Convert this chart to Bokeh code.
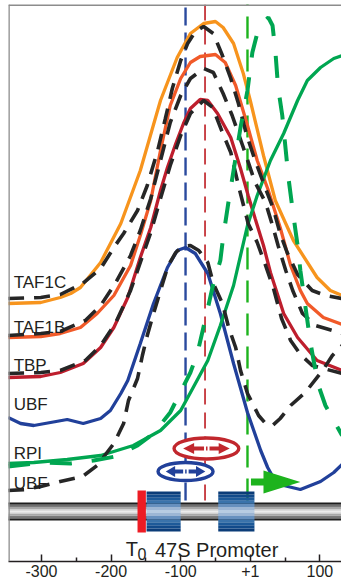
from bokeh.plotting import figure
from bokeh.models import Range1d, FixedTicker, Span
from bokeh.core.properties import value
from bokeh.embed import file_html
from bokeh.resources import INLINE

# ---- data: x = position (bp, relative to +1), y = signal (arbitrary units) ----
taf1c_x = [-348, -301, -273, -258, -244, -215, -186, -158, -129, -105, -86, -67, -50, -39, -24, -10, 0, 19, 36, 62, 96, 115, 132]
taf1c_y = [258, 259, 264, 268, 274, 299, 338, 391, 461, 504, 528, 538, 540, 534, 518, 488, 461, 406, 361, 321, 284, 271, 266]

taf1c_fit_x = [-348, -301, -273, -241, -215, -196, -182, -162, -148, -133, -122, -112, -100, -90, -79, -67, -53, -40, -28, -17, -5, 7, 22, 33, 43, 53, 68, 89, 108, 132]
taf1c_fit_y = [263, 264, 267, 278, 293, 314, 328, 351, 376, 411, 443, 473, 501, 518, 530, 535, 528, 506, 483, 458, 426, 401, 373, 353, 328, 309, 287, 271, 266, 263]

taf1b_x = [-348, -301, -273, -244, -220, -196, -172, -158, -143, -129, -115, -100, -86, -72, -50, -36, -21, -4, 10, 25, 43, 58, 72, 82, 105, 132]
taf1b_y = [224, 225, 228, 234, 248, 266, 296, 326, 361, 411, 456, 483, 499, 505, 507, 499, 476, 436, 401, 373, 334, 296, 271, 258, 244, 237]

taf1b_fit_x = [-348, -301, -273, -237, -215, -194, -172, -158, -143, -129, -115, -100, -86, -67, -53, -39, -26, -11, 7, 22, 32, 40, 51, 61, 75, 94, 132]
taf1b_fit_y = [226, 228, 230, 241, 256, 278, 306, 331, 363, 401, 439, 466, 483, 493, 489, 468, 446, 416, 379, 359, 336, 316, 291, 271, 248, 236, 228]

tbp_x = [-348, -301, -273, -240, -215, -196, -176, -158, -143, -129, -119, -107, -96, -86, -72, -61, -47, -28, -14, -3, 7, 19, 29, 48, 68, 96, 132]
tbp_y = [184, 185, 189, 198, 214, 234, 264, 304, 334, 371, 394, 418, 438, 453, 462, 461, 448, 424, 393, 366, 343, 316, 289, 248, 224, 201, 191]

tbp_fit_x = [-348, -301, -273, -237, -215, -194, -172, -158, -143, -129, -115, -100, -86, -67, -54, -40, -28, -17, -3, 10, 22, 33, 45, 58, 72, 89, 132]
tbp_fit_y = [188, 189, 191, 201, 216, 238, 271, 299, 329, 363, 396, 426, 448, 461, 454, 429, 409, 376, 338, 319, 296, 274, 243, 221, 207, 196, 188]

ubf_x = [-348, -330, -311, -287, -263, -240, -215, -201, -186, -176, -158, -139, -119, -105, -93, -79, -61, -43, -24, -4, 15, 25, 33, 48, 72, 101, 120, 132]
ubf_y = [144, 138, 136, 139, 142, 138, 143, 151, 168, 181, 218, 258, 294, 311, 314, 308, 288, 248, 198, 149, 111, 94, 84, 76, 72, 80, 89, 97]

ubf_fit_x = [-348, -323, -301, -273, -241, -220, -196, -182, -175, -162, -155, -148, -139, -129, -118, -107, -97, -86, -74, -61, -53, -40, -31, -21, -14, -4, 12, 22, 32, 43, 58, 79, 104, 118, 132]
ubf_fit_y = [71, 72, 75, 80, 85, 96, 118, 138, 161, 183, 206, 226, 248, 271, 296, 309, 315, 316, 311, 299, 278, 258, 234, 214, 191, 168, 146, 138, 136, 143, 156, 169, 191, 206, 216]

rpi_x = [-348, -311, -263, -215, -168, -129, -100, -82, -61, -43, -24, -4, 10, 29, 48, 68, 82, 101, 120, 132]
rpi_y = [98, 99, 102, 106, 116, 131, 151, 174, 201, 236, 276, 336, 366, 401, 428, 461, 481, 494, 503, 506]

rpi_fit_x = [-348, -297, -258, -225, -194, -162, -139, -115, -86, -76, -64, -53, -43, -39, -31, -24, -14, -4, 3, 10, 18, 26, 32, 36, 40, 46, 51, 55, 61, 69, 72, 79, 86, 91, 98, 108, 120, 132]
rpi_fit_y = [95, 99, 98, 101, 105, 116, 128, 149, 189, 208, 244, 278, 301, 324, 361, 391, 434, 471, 509, 528, 539, 544, 536, 511, 474, 446, 411, 383, 351, 311, 291, 256, 221, 201, 176, 156, 141, 126]

# binding-site markers (bp) and promoter diagram
site_x = [-93, -65, -4]
site_colors = ["#2A4A9E", "#C1272D", "#1DB31D"]
site_widths = [2.4, 1.7, 2.4]

complex_x = [-93, -63]          # UBF (blue) and RPI (red) ellipses
complex_y = [90, 113]
complex_w = [79, 93]
complex_h = [18, 21]
complex_colors = ["#21409A", "#C1272D"]

t0_left, t0_right = -162, -150
promoter_boxes_left = [-149, -46]
promoter_boxes_right = [-100, 6]
tss_x, tss_head, tss_tip = 0, 19, 72

series_labels = ["TAF1C", "TAF1B", "TBP", "UBF", "RPI", "UBF"]
label_y = [279, 234, 196, 157, 108, 78]

tick_values = [-300, -200, -100, 0, 100]
tick_labels = ["-300", "-200", "-100", "+1", "100"]
minor_values = [-250, -150, -50, 50]

# ---- figure ----
p = figure(width=341, height=583, output_backend="svg", toolbar_location=None,
           x_range=Range1d(-347.4, 131.1), y_range=Range1d(0, 557),
           y_axis_location=None, min_border_left=8, min_border_right=0,
           min_border_top=4, min_border_bottom=22)
p.outline_line_color = None
p.xgrid.visible = False
p.ygrid.visible = False
p.background_fill_color = "white"

ax = p.xaxis[0]
ax.ticker = FixedTicker(ticks=tick_values, minor_ticks=minor_values)
ax.major_label_overrides = dict(zip(tick_values, tick_labels))
ax.major_label_text_font = "Liberation Sans"
ax.major_label_text_font_size = "16px"
ax.major_label_text_color = "#231F20"
ax.major_label_standoff = 3
ax.axis_line_color = "#231F20"
ax.axis_line_width = 1.5
ax.major_tick_in = 7
ax.major_tick_out = 0
ax.minor_tick_in = 4
ax.minor_tick_out = 0
ax.major_tick_line_color = "#231F20"
ax.major_tick_line_width = 1.5
ax.minor_tick_line_color = "#231F20"
ax.minor_tick_line_width = 1.5

p.add_layout(Span(location=556.5, dimension="width", line_color="#8C8C8C", line_width=2))
p.add_layout(Span(location=-347.0, dimension="height", line_color="#8C8C8C", line_width=2))

# vertical site lines
dashes = ["18 7", "16 8", "22 11"]
for sx, c, w, d in zip(site_x, site_colors, site_widths, dashes):
    p.segment(x0=[sx], y0=[61], x1=[sx], y1=[560], line_color=c, line_width=w, line_dash=d)

# data curves
p.line(taf1c_x, taf1c_y, line_color="#F7941D", line_width=3.3)
p.line(taf1b_x, taf1b_y, line_color="#F15A29", line_width=3.3)
p.line(tbp_x, tbp_y, line_color="#BE1E2D", line_width=3.3)
p.line(ubf_x, ubf_y, line_color="#21409A", line_width=3.3)
p.line(rpi_x, rpi_y, line_color="#00A651", line_width=3.3)

# fitted curves
FIT = "#262626"
for fx, fy in [(taf1c_fit_x, taf1c_fit_y), (taf1b_fit_x, taf1b_fit_y),
               (tbp_fit_x, tbp_fit_y), (ubf_fit_x, ubf_fit_y)]:
    p.line(fx, fy, line_color=FIT, line_width=3.6, line_dash="16 10")
p.line(rpi_fit_x, rpi_fit_y, line_color="#00A651", line_width=4, line_dash="22 20")

# DNA bar with cylinder shading
bar_shades = ["#1e1e1e", "#4a4a4a", "#7a7a7a", "#a8a8a8", "#d0d0d0", "#ececec",
              "#d0d0d0", "#a8a8a8", "#7a7a7a", "#4a4a4a", "#1e1e1e"]
n = len(bar_shades)
bar_bottom, bar_top = 41, 59
step = (bar_top - bar_bottom) / n
p.quad(left=[-348] * n, right=[132] * n,
       bottom=[bar_bottom + i * step for i in range(n)],
       top=[bar_bottom + (i + 1) * step for i in range(n)],
       fill_color=bar_shades[::-1], line_color=None)

# promoter boxes with shading
box_shades = ["#0B3C78", "#114A8A", "#1D5A99", "#3A73AB", "#6790BE", "#9DB6D4", "#B8CCE2",
              "#9DB6D4", "#6790BE", "#3A73AB", "#1D5A99", "#114A8A", "#0B3C78"]
m = len(box_shades)
box_bottom, box_top = 30, 70
bstep = (box_top - box_bottom) / m
for bl, br in zip(promoter_boxes_left, promoter_boxes_right):
    p.quad(left=[bl] * m, right=[br] * m,
           bottom=[box_bottom + i * bstep for i in range(m)],
           top=[box_bottom + (i + 1) * bstep for i in range(m)],
           fill_color=box_shades, line_color=None)

# T0 terminator
p.quad(left=[t0_left], right=[t0_right], bottom=[29], top=[71], fill_color="#ED1C24", line_color=None)

# complexes (ellipses with double arrows)
p.ellipse(x=complex_x, y=complex_y, width=complex_w, height=complex_h,
          fill_color="white", line_color=complex_colors, line_width=3.4)
for cx, cy, cw, ch, c in zip(complex_x, complex_y, complex_w, complex_h, complex_colors):
    hw = cw / 2
    p.segment(x0=[cx - 0.45 * hw], y0=[cy], x1=[cx + 0.45 * hw], y1=[cy], line_color=c, line_width=4)
    p.patches(xs=[[cx - 0.72 * hw, cx - 0.38 * hw, cx - 0.38 * hw],
                  [cx + 0.72 * hw, cx + 0.38 * hw, cx + 0.38 * hw]],
              ys=[[cy, cy + 5.5, cy - 5.5], [cy, cy + 5.5, cy - 5.5]],
              fill_color=c, line_color=None)
    p.segment(x0=[cx - 2], y0=[cy - 6], x1=[cx - 2], y1=[cy + 6], line_color="white", line_width=2)
    p.segment(x0=[cx + 3], y0=[cy - 6], x1=[cx + 3], y1=[cy + 6], line_color="white", line_width=2)

# transcription start arrow
p.patch(x=[tss_x + 1, tss_head, tss_head, tss_tip, tss_head, tss_head, tss_x + 1],
        y=[76, 76, 68, 79.5, 91, 83, 83], fill_color="#1DB31D", line_color=None)

# texts
p.text(x=[-340] * len(series_labels), y=label_y, text=series_labels,
       text_font=value("Liberation Sans"), text_font_size="17px",
       text_color="#231F20", text_baseline="alphabetic", text_align="left")
p.text(x=[-179], y=[13], text=["T"], text_font=value("Liberation Sans"),
       text_font_size="20px", text_color="#231F20", text_baseline="alphabetic")
p.text(x=[-162], y=[8], text=["0"], text_font=value("Liberation Sans"),
       text_font_size="16px", text_color="#231F20", text_baseline="alphabetic")
p.text(x=[-137], y=[12], text=["47S Promoter"], text_font=value("Liberation Sans"),
       text_font_size="20px", text_color="#231F20", text_baseline="alphabetic")

open("out.html", "w").write(file_html(p, INLINE))
